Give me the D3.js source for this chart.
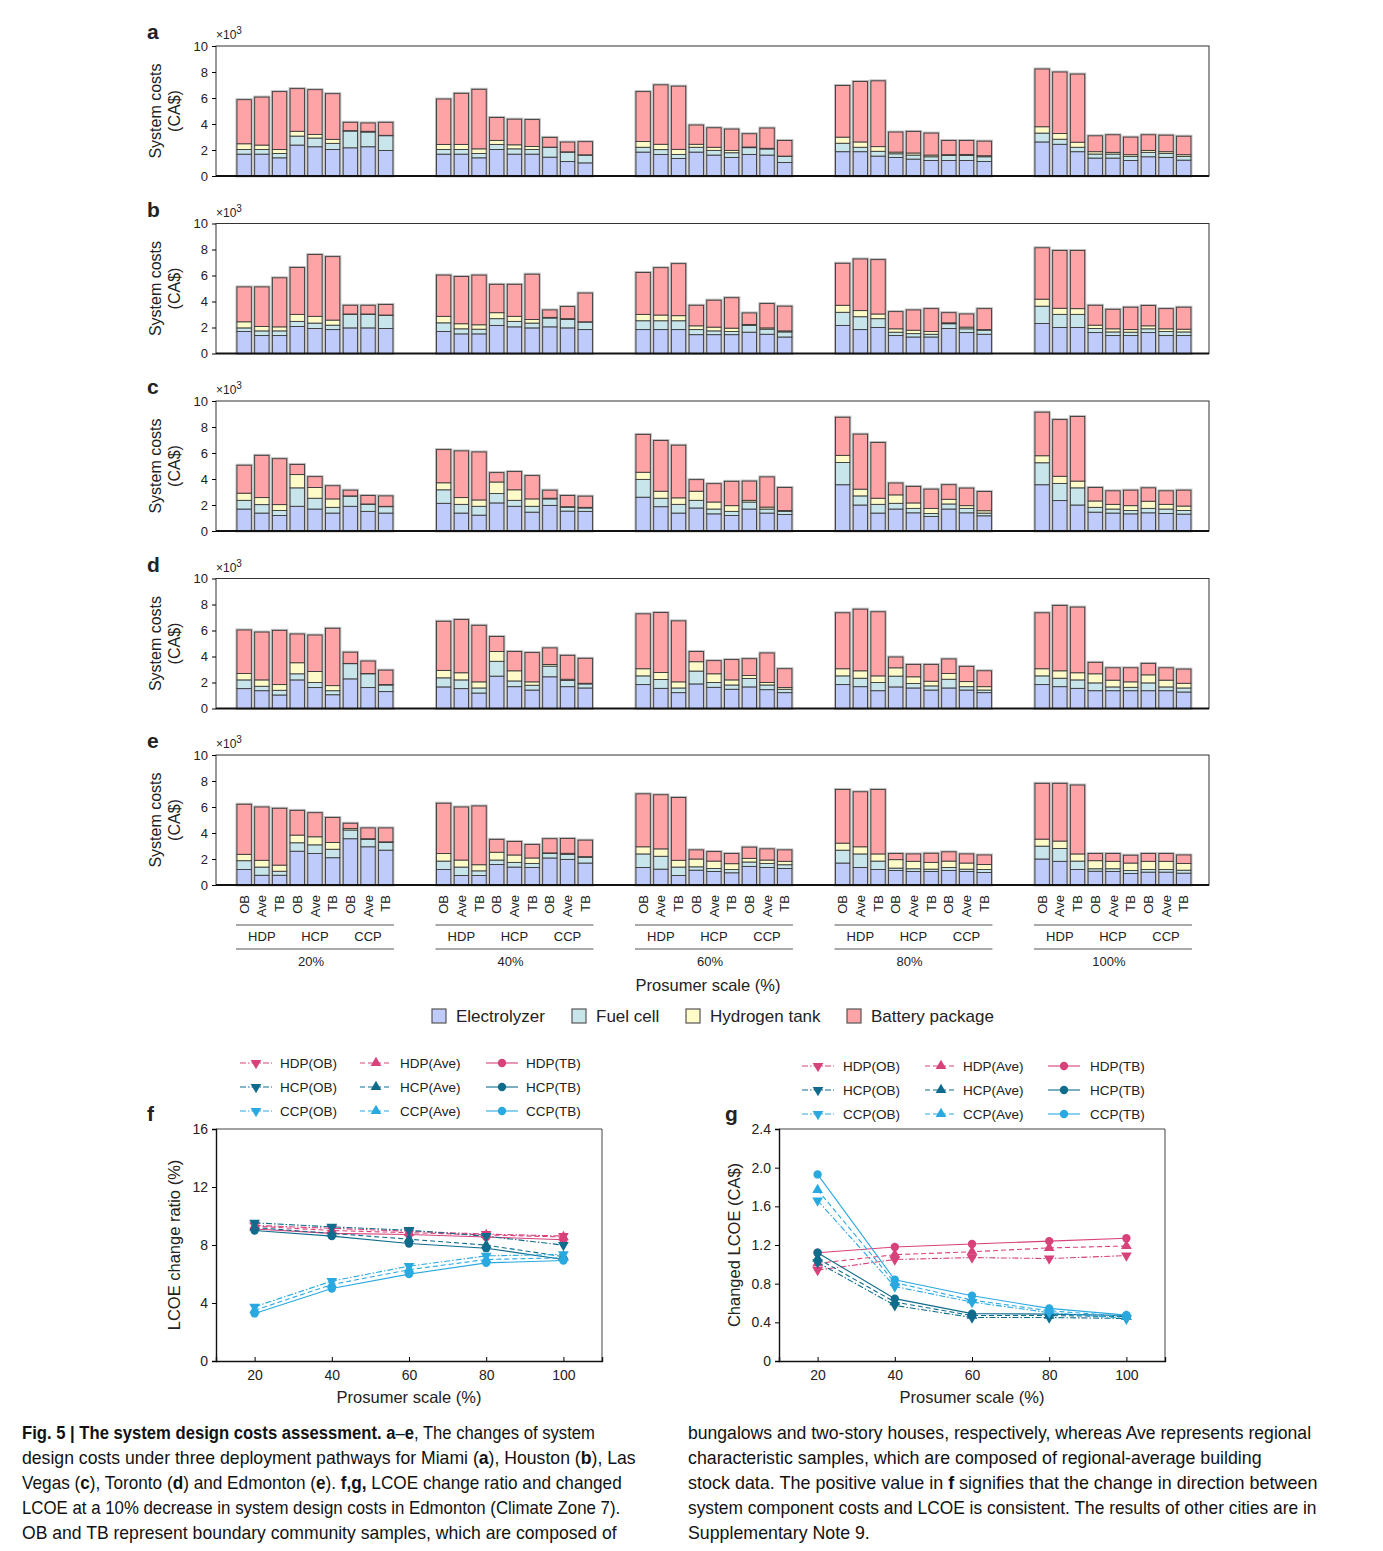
<!DOCTYPE html>
<html>
<head>
<meta charset="utf-8">
<script src="https://cdn.jsdelivr.net/npm/d3@7"></script>
<style>
  body { margin: 0; background: #fff; }
  svg { display: block; }
  text { font-family: "Liberation Sans", Arial, sans-serif; fill: #222; }
  .caption text { font-family: "Liberation Sans", Arial, sans-serif; fill: #111; }
</style>
</head>
<body>
<svg id="fig" width="1383" height="1551"></svg>
<script>
// ---- categories ----
const scales = ['20%', '40%', '60%', '80%', '100%'];
const pathways = ['HDP', 'HCP', 'CCP'];
const samples = ['OB', 'Ave', 'TB'];
const components = ['Electrolyzer', 'Fuel cell', 'Hydrogen tank', 'Battery package'];
const compColors = ['#bfccfb', '#c7e5ea', '#fffbc9', '#ffa4a6'];

// ---- system costs (x10^3 CA$), 45 bars per city: scale > pathway > sample ----
const miamiElec = [1.68,1.68,1.40,2.38,2.25,2.04,2.17,2.25,1.96, 1.68,1.68,1.40,2.04,1.68,1.68,1.45,1.11,1.01, 1.84,1.66,1.35,1.84,1.61,1.43,1.66,1.61,1.04, 1.87,1.87,1.53,1.43,1.30,1.19,1.19,1.19,1.12, 2.62,2.44,1.87,1.38,1.38,1.19,1.48,1.43,1.22];
const miamiFuel = [0.36,0.36,0.33,0.69,0.67,0.47,1.29,1.13,1.14, 0.36,0.36,0.33,0.39,0.41,0.36,0.75,0.72,0.59, 0.37,0.37,0.31,0.37,0.36,0.36,0.52,0.47,0.47, 0.65,0.34,0.37,0.28,0.31,0.29,0.39,0.39,0.36, 0.68,0.39,0.34,0.31,0.31,0.32,0.34,0.31,0.29];
const miamiTank = [0.44,0.34,0.31,0.37,0.28,0.31,0.03,0.06,0.03, 0.39,0.39,0.36,0.31,0.31,0.23,0.02,0.03,0.03, 0.44,0.41,0.39,0.23,0.24,0.18,0.05,0.05,0.02, 0.47,0.41,0.36,0.13,0.16,0.13,0.06,0.08,0.08, 0.49,0.44,0.39,0.18,0.13,0.13,0.15,0.13,0.13];
const miamiBatt = [3.39,3.69,4.45,3.28,3.44,3.51,0.64,0.64,1.00, 3.49,3.93,4.58,1.76,1.97,2.07,0.75,0.75,1.01, 3.84,4.57,4.86,1.48,1.50,1.64,1.02,1.56,1.20, 3.97,4.65,5.06,1.54,1.66,1.69,1.09,1.07,1.12, 4.44,4.73,5.24,1.22,1.35,1.35,1.20,1.27,1.42];

const houstonElec = [1.69,1.38,1.38,2.08,1.92,1.84,1.97,1.97,1.92, 1.69,1.51,1.51,2.16,2.05,1.97,2.05,1.97,1.84, 1.84,1.84,1.84,1.45,1.45,1.45,1.64,1.48,1.27, 2.16,1.84,2.00,1.38,1.27,1.27,1.92,1.61,1.48, 2.31,2.00,2.00,1.61,1.38,1.38,1.61,1.38,1.38];
const houstonFuel = [0.28,0.36,0.36,0.39,0.42,0.34,1.04,1.04,1.02, 0.67,0.39,0.36,0.52,0.42,0.37,0.68,0.65,0.58, 0.68,0.68,0.68,0.39,0.29,0.24,0.52,0.39,0.39, 1.01,0.99,0.68,0.26,0.26,0.21,0.37,0.29,0.31, 1.33,1.01,1.01,0.31,0.28,0.26,0.29,0.31,0.28];
const houstonTank = [0.47,0.34,0.31,0.54,0.52,0.39,0.03,0.03,0.02, 0.50,0.39,0.34,0.46,0.39,0.28,0.05,0.06,0.02, 0.49,0.44,0.39,0.29,0.29,0.26,0.07,0.10,0.08, 0.54,0.47,0.36,0.26,0.26,0.21,0.07,0.13,0.05, 0.54,0.47,0.44,0.26,0.24,0.20,0.23,0.21,0.21];
const houstonBatt = [2.68,3.04,3.77,3.61,4.75,4.88,0.67,0.67,0.81, 3.17,3.63,3.82,2.18,2.46,3.48,0.57,0.93,2.21, 3.22,3.64,4.00,1.58,2.07,2.34,0.89,1.87,1.90, 3.23,3.97,4.18,1.32,1.56,1.76,0.78,1.01,1.61, 3.95,4.44,4.47,1.53,1.50,1.72,1.56,1.55,1.69];

const vegasElec = [1.69,1.38,1.19,1.90,1.69,1.38,1.90,1.51,1.38, 2.13,1.38,1.22,2.16,1.90,1.45,1.97,1.53,1.51, 2.60,1.87,1.38,1.77,1.32,1.19,1.69,1.38,1.27, 3.56,2.00,1.38,1.69,1.40,1.12,1.69,1.40,1.17, 3.56,2.34,2.00,1.45,1.38,1.32,1.40,1.35,1.30];
const vegasFuel = [0.67,0.65,0.39,1.42,0.83,0.44,0.78,0.54,0.49, 1.04,0.67,0.68,0.72,0.46,0.45,0.50,0.29,0.26, 1.37,0.65,0.67,0.59,0.37,0.32,0.54,0.31,0.24, 1.71,0.70,0.67,0.44,0.34,0.23,0.39,0.34,0.21, 1.69,1.32,1.32,0.37,0.31,0.26,0.34,0.34,0.28];
const vegasTank = [0.55,0.54,0.45,1.02,0.83,0.65,0.02,0.03,0.03, 0.54,0.52,0.49,0.89,0.81,0.57,0.05,0.05,0.05, 0.55,0.54,0.50,0.70,0.54,0.44,0.13,0.15,0.07, 0.55,0.52,0.47,0.65,0.42,0.39,0.36,0.21,0.18, 0.54,0.55,0.52,0.49,0.36,0.37,0.55,0.36,0.34];
const vegasBatt = [2.15,3.25,3.53,0.78,0.83,1.01,0.44,0.65,0.80, 2.55,3.59,3.69,0.72,1.40,1.79,0.62,0.86,0.86, 2.91,3.90,4.05,0.89,1.41,1.87,1.48,2.32,1.77, 2.93,4.23,4.29,0.91,1.27,1.48,1.12,1.35,1.48, 3.35,4.36,4.97,1.04,1.04,1.19,1.03,1.04,1.22];

const torontoElec = [1.53,1.37,1.04,2.20,1.61,1.06,2.28,1.61,1.30, 1.66,1.53,1.19,2.49,1.68,1.42,2.44,1.68,1.58, 1.84,1.55,1.22,1.89,1.63,1.48,1.66,1.45,1.22, 1.84,1.68,1.37,1.66,1.58,1.42,1.58,1.42,1.22, 1.84,1.68,1.55,1.37,1.37,1.37,1.37,1.37,1.27];
const torontoFuel = [0.67,0.34,0.36,0.47,0.39,0.31,1.17,1.06,0.51, 0.70,0.67,0.39,1.14,0.44,0.37,0.82,0.47,0.31, 0.67,0.68,0.36,0.99,0.37,0.33,0.65,0.36,0.26, 0.67,0.65,0.63,0.83,0.34,0.32,0.67,0.26,0.20, 0.67,0.65,0.65,0.60,0.29,0.26,0.60,0.29,0.31];
const torontoTank = [0.49,0.49,0.44,0.85,0.85,0.39,0.02,0.02,0.03, 0.57,0.55,0.47,0.75,0.78,0.26,0.13,0.10,0.05, 0.55,0.54,0.47,0.72,0.67,0.39,0.23,0.19,0.13, 0.55,0.57,0.51,0.64,0.52,0.36,0.44,0.39,0.26, 0.55,0.57,0.55,0.70,0.52,0.42,0.62,0.52,0.36];
const torontoBatt = [3.35,3.68,4.17,2.21,2.80,4.41,0.86,0.96,1.11, 3.78,4.09,4.35,1.16,1.48,2.25,1.27,1.84,1.92, 4.22,4.61,4.69,0.78,1.01,1.56,1.29,2.27,1.45, 4.30,4.74,4.93,0.83,0.95,1.29,1.12,1.17,1.22, 4.30,5.03,5.05,0.88,0.95,1.08,0.88,0.95,1.09];

const edmontonElec = [1.19,0.75,0.75,2.60,2.42,2.10,3.56,2.94,2.68, 1.19,0.73,0.73,1.58,1.38,1.35,2.08,1.97,1.69, 1.35,1.22,0.73,1.14,1.04,0.94,1.43,1.35,1.27, 1.69,1.35,1.19,1.12,1.04,1.04,1.12,1.04,0.96, 2.00,1.82,1.19,1.06,1.04,0.88,0.99,0.99,0.91];
const edmontonFuel = [0.68,0.63,0.31,0.65,0.67,0.65,0.67,0.57,0.59, 0.65,0.65,0.36,0.34,0.36,0.31,0.34,0.39,0.44, 1.04,0.99,0.65,0.26,0.23,0.25,0.34,0.31,0.29, 0.99,1.04,0.65,0.18,0.21,0.18,0.23,0.18,0.23, 0.99,0.99,0.65,0.19,0.21,0.24,0.20,0.20,0.23];
const edmontonTank = [0.49,0.52,0.47,0.59,0.62,0.52,0.11,0.05,0.05, 0.58,0.54,0.47,0.60,0.57,0.42,0.05,0.08,0.05, 0.55,0.57,0.52,0.60,0.57,0.45,0.28,0.26,0.26, 0.54,0.55,0.55,0.65,0.57,0.52,0.49,0.47,0.39, 0.54,0.57,0.55,0.62,0.57,0.57,0.63,0.63,0.52];
const edmontonBatt = [3.85,4.10,4.37,1.90,1.85,1.92,0.41,0.83,1.07, 3.87,4.08,4.52,0.99,1.04,1.04,1.09,1.14,1.27, 4.07,4.16,4.83,0.70,0.73,0.78,0.86,0.86,0.88, 4.13,4.23,4.96,0.47,0.57,0.70,0.71,0.70,0.73, 4.29,4.44,5.30,0.55,0.60,0.60,0.60,0.60,0.65];

// ---- f, g: Edmonton LCOE at 10% cost decrease ----
const prosumerScale = [20, 40, 60, 80, 100];
const ratioHDP_OB  = [9.35, 9.15, 8.95, 8.75, 8.62];
const ratioHDP_Ave = [9.30, 9.00, 8.85, 8.70, 8.55];
const ratioHDP_TB  = [9.10, 8.80, 8.72, 8.55, 8.36];
const ratioHCP_OB  = [9.53, 9.25, 9.02, 8.61, 7.99];
const ratioHCP_Ave = [9.20, 8.80, 8.40, 7.99, 7.20];
const ratioHCP_TB  = [9.00, 8.61, 8.10, 7.78, 7.00];
const ratioCCP_OB  = [3.74, 5.51, 6.54, 7.25, 7.35];
const ratioCCP_Ave = [3.50, 5.27, 6.30, 7.00, 7.12];
const ratioCCP_TB  = [3.28, 5.00, 5.99, 6.77, 6.93];

const lcoeHDP_OB  = [0.94, 1.05, 1.07, 1.06, 1.09];
const lcoeHDP_Ave = [1.01, 1.10, 1.13, 1.17, 1.19];
const lcoeHDP_TB  = [1.12, 1.18, 1.21, 1.24, 1.27];
const lcoeHCP_OB  = [1.02, 0.575, 0.45, 0.45, 0.44];
const lcoeHCP_Ave = [1.06, 0.61, 0.47, 0.47, 0.46];
const lcoeHCP_TB  = [1.12, 0.645, 0.49, 0.485, 0.47];
const lcoeCCP_OB  = [1.66, 0.77, 0.61, 0.50, 0.44];
const lcoeCCP_Ave = [1.77, 0.81, 0.63, 0.52, 0.46];
const lcoeCCP_TB  = [1.93, 0.84, 0.675, 0.544, 0.475];

const pathwayColors = { HDP: '#d8427b', HCP: '#0f6c8c', CCP: '#2aa9e0' };
const sampleDash = { OB: '6,2,1.5,2', Ave: '5,3', TB: null };

const svg = d3.select('#fig');
svg.append('rect').attr('width', 1383).attr('height', 1551).attr('fill', '#fff');

///////////////// stacked bar panels a-e /////////////////
const plotL = 216, plotR = 1209, plotH = 130;
const panels = [
  { letter: 'a', top: 46, parts: [miamiElec, miamiFuel, miamiTank, miamiBatt] },
  { letter: 'b', top: 223.5, parts: [houstonElec, houstonFuel, houstonTank, houstonBatt] },
  { letter: 'c', top: 401, parts: [vegasElec, vegasFuel, vegasTank, vegasBatt] },
  { letter: 'd', top: 578.5, parts: [torontoElec, torontoFuel, torontoTank, torontoBatt] },
  { letter: 'e', top: 755, parts: [edmontonElec, edmontonFuel, edmontonTank, edmontonBatt] }
];

const groupX = d3.scaleBand().domain(scales).range([235.3, 235.3 + 5 * 199.5]);
const barX = d3.scaleBand().domain(d3.range(9)).range([0, 159.3]).paddingInner(0.19).paddingOuter(0.095);

function rowsFor(parts) {
  return d3.range(45).map(i => {
    const r = { scale: scales[Math.floor(i / 9)], pathway: pathways[Math.floor(i / 3) % 3], sample: samples[i % 3], idx: i % 9 };
    components.forEach((c, k) => r[c] = parts[k][i]);
    return r;
  });
}

panels.forEach(p => {
  const g = svg.append('g');
  const y = d3.scaleLinear().domain([0, 10]).range([p.top + plotH, p.top]);
  const rows = rowsFor(p.parts);
  const stacked = d3.stack().keys(components)(rows);
  const bx = d => groupX(d.scale) + barX(d.idx);

  // halo behind bars
  g.selectAll('.halo').data(rows).enter().append('rect')
    .attr('x', bx).attr('width', barX.bandwidth())
    .attr('y', d => y(d3.sum(components, c => d[c])))
    .attr('height', d => y(0) - y(d3.sum(components, c => d[c])))
    .attr('fill', 'none').attr('stroke', '#bdbdbd').attr('stroke-width', 3);

  stacked.forEach((layer, k) => {
    g.selectAll(null).data(layer).enter().append('rect')
      .attr('x', d => bx(d.data)).attr('width', barX.bandwidth())
      .attr('y', d => y(d[1])).attr('height', d => y(d[0]) - y(d[1]))
      .attr('fill', compColors[k]).attr('stroke', '#3a3a3a').attr('stroke-width', 0.9);
  });

  // frame
  g.append('rect').attr('x', plotL).attr('y', p.top).attr('width', plotR - plotL).attr('height', plotH)
    .attr('fill', 'none').attr('stroke', '#333').attr('stroke-width', 1);
  g.append('line').attr('x1', plotL).attr('x2', plotR).attr('y1', y(0)).attr('y2', y(0))
    .attr('stroke', '#111').attr('stroke-width', 1.8);

  const ax = g.append('g').attr('transform', `translate(${plotL},0)`)
    .call(d3.axisLeft(y).tickValues([0, 2, 4, 6, 8, 10]).tickSize(4).tickPadding(4));
  ax.select('.domain').remove();
  ax.selectAll('text').style('font-size', '13px').attr('fill', '#222');

  g.append('text').attr('x', 147).attr('y', p.top - 7).text(p.letter)
    .style('font-size', '21px').style('font-weight', 'bold').attr('fill', '#111');
  const mult = g.append('text').attr('x', 216).attr('y', p.top - 7).style('font-size', '12px');
  mult.append('tspan').text('×10');
  mult.append('tspan').attr('dy', -5).style('font-size', '10px').text('3');

  const yl = g.append('text').attr('transform', `translate(161,${p.top + plotH / 2}) rotate(-90)`)
    .attr('text-anchor', 'middle').style('font-size', '16px');
  yl.append('tspan').attr('x', 0).attr('dy', 0).text('System costs');
  yl.append('tspan').attr('x', 0).attr('dy', 19).text('(CA$)');

  // category labels under the last panel
  if (p.letter === 'e') {
    const base = p.top + plotH;
    g.selectAll('.cat').data(rows).enter().append('text')
      .attr('transform', d => `translate(${bx(d) + barX.bandwidth() / 2},${base + 10}) rotate(-90)`)
      .attr('text-anchor', 'end').attr('dy', '0.35em').style('font-size', '13px').text(d => d.sample);
    scales.forEach(s => {
      const x0 = groupX(s) + barX(0) - 1, x1 = groupX(s) + barX(8) + barX.bandwidth() + 1;
      [925, 949].forEach(yy => g.append('line').attr('x1', x0).attr('x2', x1).attr('y1', yy).attr('y2', yy)
        .attr('stroke', '#555').attr('stroke-width', 1.2));
      pathways.forEach((pw, k) => {
        g.append('text').attr('x', groupX(s) + barX(k * 3 + 1) + barX.bandwidth() / 2).attr('y', 941)
          .attr('text-anchor', 'middle').style('font-size', '13px').text(pw);
      });
      g.append('text').attr('x', (x0 + x1) / 2 - 4).attr('y', 966).attr('text-anchor', 'middle')
        .style('font-size', '13px').text(s);
    });
    g.append('text').attr('x', 708).attr('y', 991).attr('text-anchor', 'middle').style('font-size', '16.5px')
      .text('Prosumer scale (%)');
  }
});

// component legend
const legX = [432, 572, 686, 847];
components.forEach((c, k) => {
  svg.append('rect').attr('x', legX[k]).attr('y', 1009).attr('width', 14).attr('height', 14)
    .attr('fill', compColors[k]).attr('stroke', '#555').attr('stroke-width', 1.2);
  svg.append('text').attr('x', legX[k] + 24).attr('y', 1022).style('font-size', '17px').text(c);
});

///////////////// line panels f, g /////////////////
const lineSeries = pathways.flatMap(pw => samples.map(s => ({ pathway: pw, sample: s, name: `${pw}(${s})` })));
const ratioValues = [ratioHDP_OB, ratioHDP_Ave, ratioHDP_TB, ratioHCP_OB, ratioHCP_Ave, ratioHCP_TB, ratioCCP_OB, ratioCCP_Ave, ratioCCP_TB];
const lcoeValues = [lcoeHDP_OB, lcoeHDP_Ave, lcoeHDP_TB, lcoeHCP_OB, lcoeHCP_Ave, lcoeHCP_TB, lcoeCCP_OB, lcoeCCP_Ave, lcoeCCP_TB];

function marker(sel, sample, color) {
  if (sample === 'TB') {
    sel.attr('d', d3.symbol(d3.symbolCircle, 55)());
  } else {
    sel.attr('d', d3.symbol(d3.symbolTriangle, 50)());
  }
  sel.attr('fill', color).attr('stroke', 'none');
}

function linePanel(cfg) {
  const g = svg.append('g');
  const x = d3.scaleLinear().domain([10, 110]).range([cfg.left, cfg.left + 386]);
  const y = d3.scaleLinear().domain(cfg.yDomain).range([1361, 1129]);

  g.append('line').attr('x1', cfg.left).attr('x2', cfg.left + 386).attr('y1', 1129).attr('y2', 1129).attr('stroke', '#444');
  g.append('line').attr('x1', cfg.left + 386).attr('x2', cfg.left + 386).attr('y1', 1129).attr('y2', 1361).attr('stroke', '#444');

  const xa = g.append('g').attr('transform', 'translate(0,1361)')
    .call(d3.axisBottom(x).tickValues(prosumerScale).tickSize(-4).tickPadding(9));
  xa.select('.domain').attr('stroke', '#111').attr('stroke-width', 1.4);
  xa.selectAll('text').style('font-size', '14px').attr('fill', '#222');
  const ya = g.append('g').attr('transform', `translate(${cfg.left},0)`)
    .call(d3.axisLeft(y).tickValues(cfg.yTicks).tickSize(4).tickPadding(4).tickFormat(cfg.fmt));
  ya.select('.domain').attr('stroke', '#111').attr('stroke-width', 1.4);
  ya.selectAll('text').style('font-size', '14px').attr('fill', '#222');

  const line = d3.line().x((d, i) => x(prosumerScale[i])).y(d => y(d));
  lineSeries.forEach((s, k) => {
    const col = pathwayColors[s.pathway];
    g.append('path').datum(cfg.values[k]).attr('d', line).attr('fill', 'none')
      .attr('stroke', col).attr('stroke-width', 1.1).attr('stroke-dasharray', sampleDash[s.sample]);
    g.selectAll(null).data(cfg.values[k]).enter().append('path')
      .attr('transform', (d, i) => `translate(${x(prosumerScale[i])},${y(d)})${s.sample === 'OB' ? ' rotate(180)' : ''}`)
      .call(marker, s.sample, col);
  });

  // legend 3x3
  lineSeries.forEach((s, k) => {
    const row = pathways.indexOf(s.pathway), col = samples.indexOf(s.sample);
    const lx = cfg.legLine[col], ly = cfg.legRows[row], c = pathwayColors[s.pathway];
    g.append('line').attr('x1', lx).attr('x2', lx + 32).attr('y1', ly).attr('y2', ly)
      .attr('stroke', c).attr('stroke-width', 1.1).attr('stroke-dasharray', sampleDash[s.sample]);
    g.append('path').attr('transform', `translate(${lx + 16},${ly})${s.sample === 'OB' ? ' rotate(180)' : ''}`)
      .call(marker, s.sample, c);
    g.append('text').attr('x', cfg.legText[col]).attr('y', ly + 5).style('font-size', '13.5px').text(s.name);
  });

  g.append('text').attr('x', cfg.letterX).attr('y', cfg.letterY).text(cfg.letter)
    .style('font-size', '21px').style('font-weight', 'bold').attr('fill', '#111');
  g.append('text').attr('transform', `translate(${cfg.ylabX},1245) rotate(-90)`).attr('text-anchor', 'middle')
    .style('font-size', '16.5px').text(cfg.ylabel);
  g.append('text').attr('x', cfg.left + 193).attr('y', 1403).attr('text-anchor', 'middle')
    .style('font-size', '16.5px').text('Prosumer scale (%)');
}

linePanel({
  letter: 'f', letterX: 147, letterY: 1121, left: 216,
  yDomain: [0, 16], yTicks: [0, 4, 8, 12, 16], fmt: d3.format('d'),
  values: ratioValues, ylabel: 'LCOE change ratio (%)', ylabX: 180,
  legLine: [240, 360, 486], legText: [280, 400, 526], legRows: [1063, 1087, 1111]
});
linePanel({
  letter: 'g', letterX: 725, letterY: 1121, left: 779,
  yDomain: [0, 2.4], yTicks: [0, 0.4, 0.8, 1.2, 1.6, 2.0, 2.4], fmt: d => d === 0 ? '0' : d3.format('.1f')(d),
  values: lcoeValues, ylabel: 'Changed LCOE (CA$)', ylabX: 740,
  legLine: [802, 925, 1048], legText: [843, 963, 1090], legRows: [1066, 1090, 1114]
});

///////////////// caption /////////////////
const captionLeft = [
  [['Fig. 5 | The system design costs assessment. a', 1], ['–', 0], ['e', 1], [', The changes of system', 0]],
  [['design costs under three deployment pathways for Miami (', 0], ['a', 1], ['), Houston (', 0], ['b', 1], ['), Las', 0]],
  [['Vegas (', 0], ['c', 1], ['), Toronto (', 0], ['d', 1], [') and Edmonton (', 0], ['e', 1], ['). ', 0], ['f,g,', 1], [' LCOE change ratio and changed', 0]],
  [['LCOE at a 10% decrease in system design costs in Edmonton (Climate Zone 7).', 0]],
  [['OB and TB represent boundary community samples, which are composed of', 0]]
];
const captionRight = [
  [['bungalows and two-story houses, respectively, whereas Ave represents regional', 0]],
  [['characteristic samples, which are composed of regional-average building', 0]],
  [['stock data. The positive value in ', 0], ['f', 1], [' signifies that the change in direction between', 0]],
  [['system component costs and LCOE is consistent. The results of other cities are in', 0]],
  [['Supplementary Note 9.', 0]]
];
const leftWidths = [573, 614, 600, 599, 595];
const rightWidths = [624, 574, 630, 629, 182];

const cap = svg.append('g').attr('class', 'caption');
function writeCol(lines, x0, widths) {
  lines.forEach((segs, i) => {
    const yy = 1439 + i * 25;
    const t = cap.append('text').attr('x', 0).attr('y', 0).style('font-size', '18px');
    segs.forEach(([s, b]) => t.append('tspan').text(s).style('font-weight', b ? 'bold' : 'normal'));
    const natural = t.node().getComputedTextLength();
    t.attr('transform', `translate(${x0},${yy}) scale(${widths[i] / natural},1)`);
  });
}
writeCol(captionLeft, 22, leftWidths);
writeCol(captionRight, 688, rightWidths);
</script>
</body>
</html>
